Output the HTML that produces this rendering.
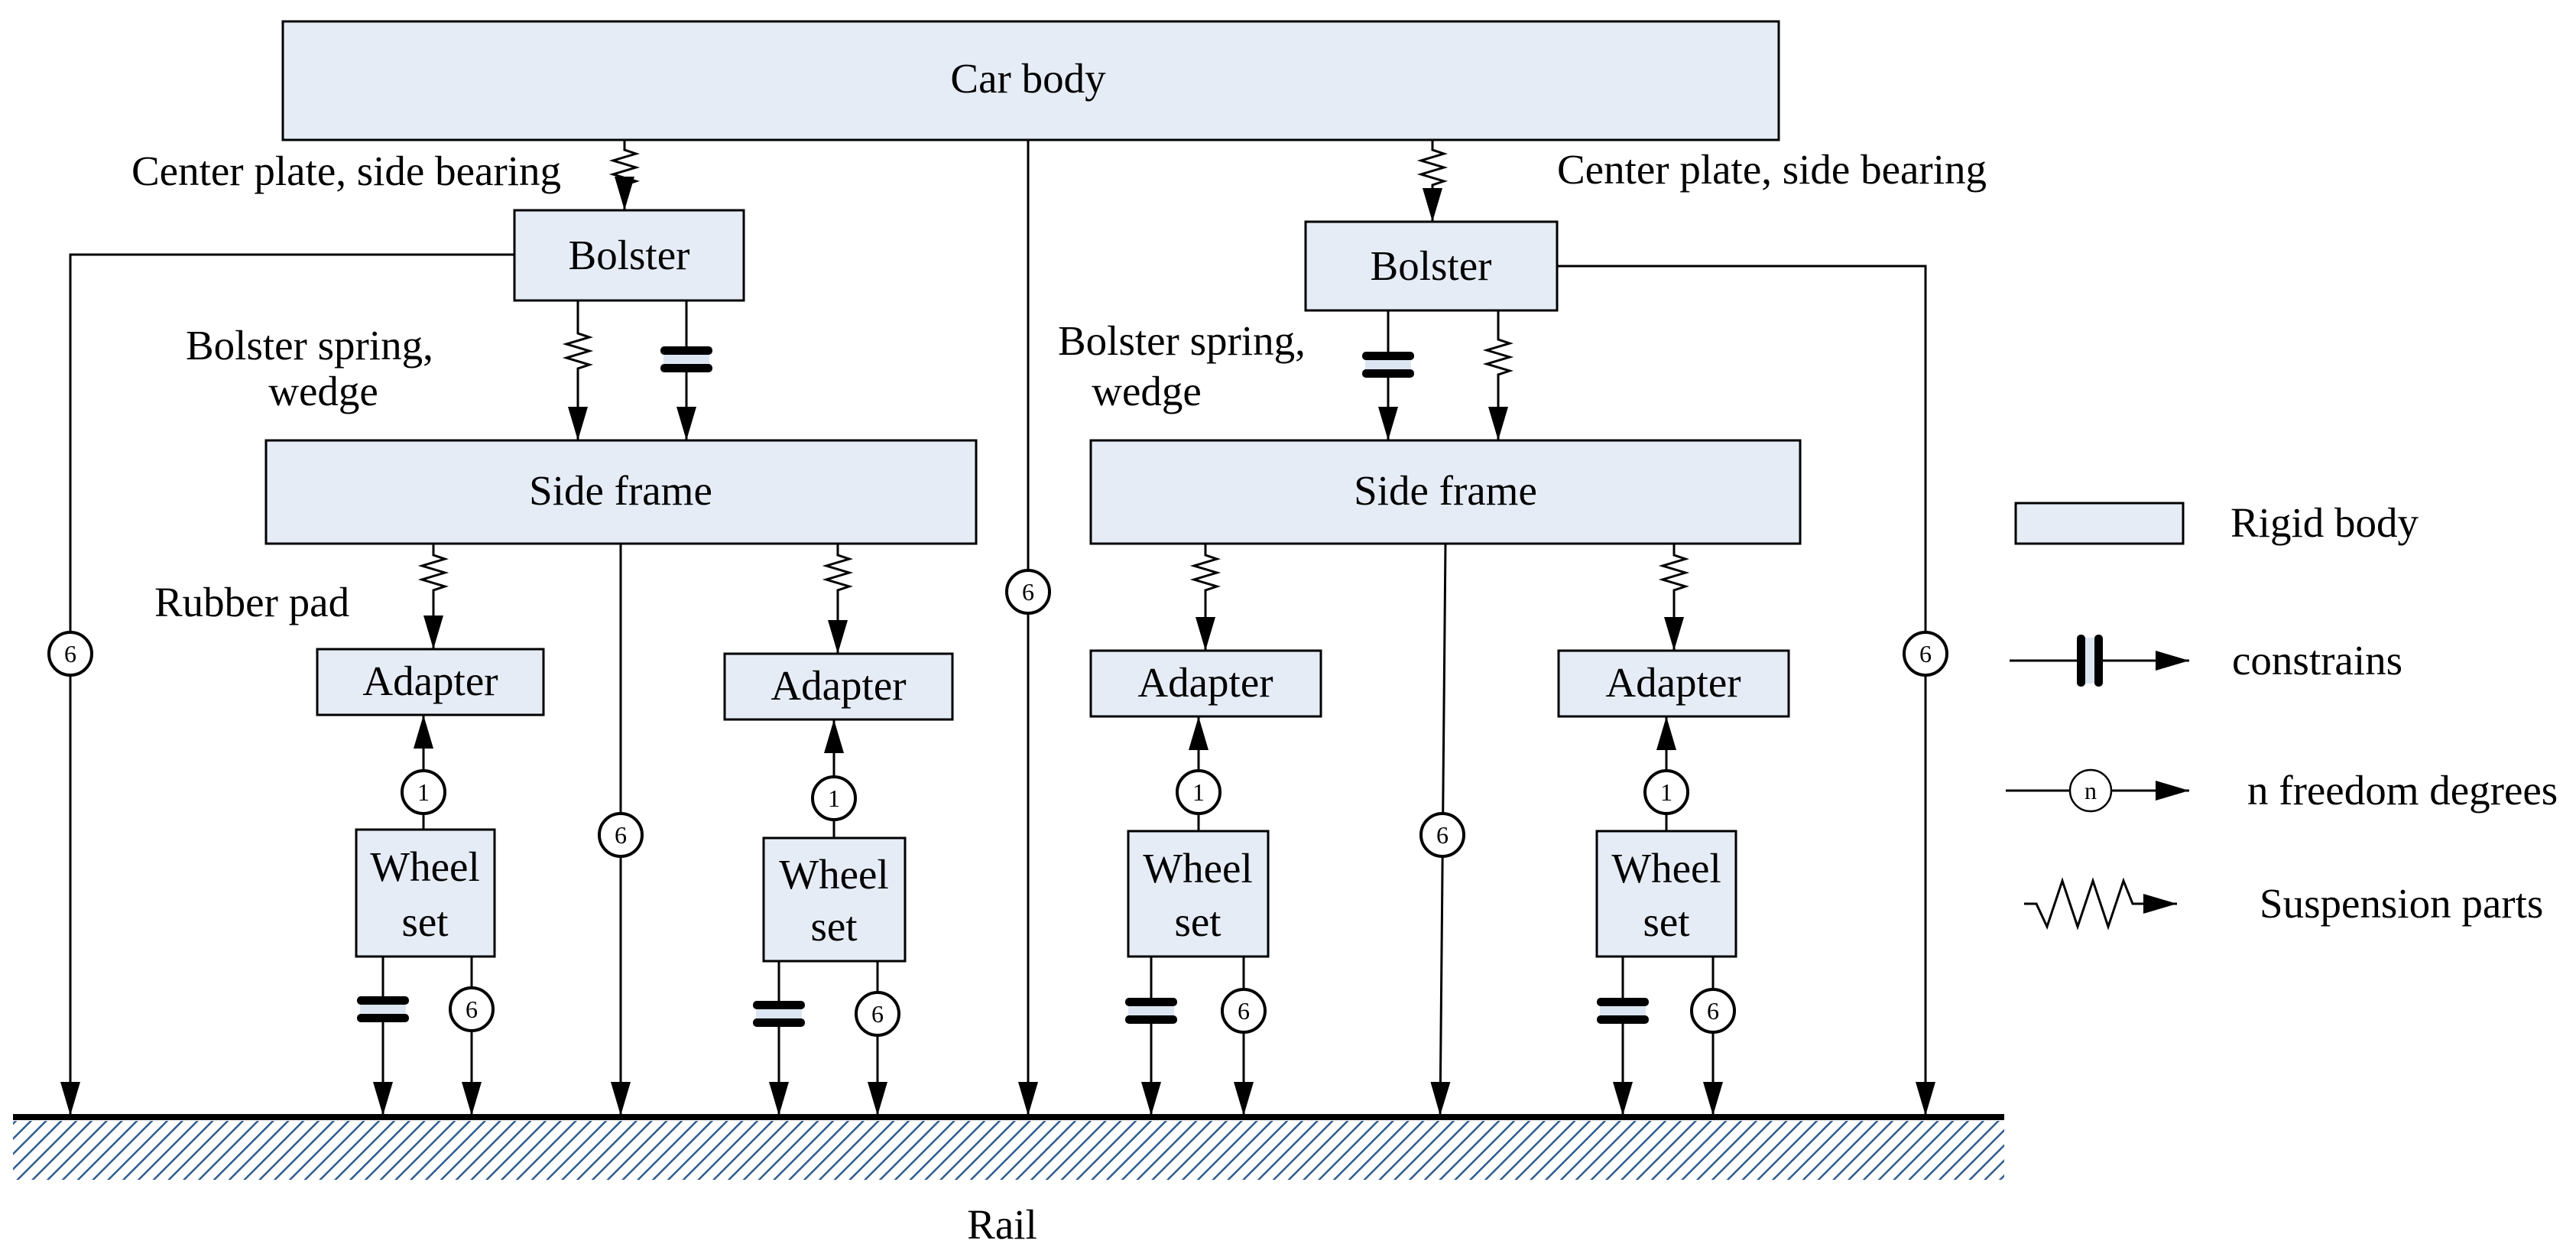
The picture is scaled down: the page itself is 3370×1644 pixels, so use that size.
<!DOCTYPE html>
<html><head><meta charset="utf-8"><style>
html,body{margin:0;padding:0;background:#fff}
svg{display:block}
text{font-family:"Liberation Serif",serif;fill:#000}
</style></head><body>
<svg width="3370" height="1644" viewBox="0 0 3370 1644" xmlns="http://www.w3.org/2000/svg">
<defs>
<marker id="ar" markerUnits="userSpaceOnUse" markerWidth="46" markerHeight="28" refX="44" refY="13" orient="auto">
<path d="M0,0 L44,13 L0,26 Z" fill="#000"/></marker>
<path id="spr" d="M0,0 v6 l15,5 l-30,9 l30,9 l-30,9 l30,9 l-15,5 v6" fill="none" stroke="#000" stroke-width="3"/>
<g id="con"><rect x="-30" y="-10" width="60" height="20" fill="#dce6f2"/><rect x="-34" y="-17" width="68" height="11" rx="5" fill="#000"/><rect x="-34" y="6" width="68" height="11" rx="5" fill="#000"/></g>
<pattern id="hatch" patternUnits="userSpaceOnUse" width="14" height="14" patternTransform="rotate(45)"><rect width="14" height="14" fill="#fff"/><line x1="0" y1="0" x2="0" y2="14" stroke="#2f5d8f" stroke-width="5"/></pattern>
</defs>
<g stroke="#000" stroke-width="3" fill="#e6ecf6">
<rect x="370" y="28" width="1957" height="155"/>
<rect x="673" y="275" width="300" height="118"/>
<rect x="1708" y="290" width="329" height="116"/>
<rect x="348" y="576" width="929" height="135"/>
<rect x="1427" y="576" width="928" height="135"/>
<rect x="415" y="849" width="296" height="86"/>
<rect x="948" y="855" width="298" height="86"/>
<rect x="1427" y="851" width="301" height="86"/>
<rect x="2039" y="851" width="301" height="86"/>
<rect x="466" y="1085" width="181" height="166"/>
<rect x="999" y="1096" width="185" height="161"/>
<rect x="1476" y="1087" width="183" height="164"/>
<rect x="2089" y="1087" width="182" height="164"/>
<rect x="2637" y="658" width="219" height="53"/>
</g>
<rect x="17" y="1466" width="2605" height="77" fill="url(#hatch)"/>
<line x1="17" y1="1461" x2="2622" y2="1461" stroke="#000" stroke-width="8"/>
<g stroke="#000" stroke-width="3" fill="none">
<line x1="817" y1="183" x2="817" y2="190"/><use href="#spr" x="817" y="190"/><line x1="817" y1="246" x2="817" y2="275" marker-end="url(#ar)"/>
<line x1="1874" y1="183" x2="1874" y2="190"/><use href="#spr" x="1874" y="190"/><line x1="1874" y1="246" x2="1874" y2="290" marker-end="url(#ar)"/>
<line x1="756" y1="393" x2="756" y2="430"/><use href="#spr" x="756" y="430"/><line x1="756" y1="486" x2="756" y2="576" marker-end="url(#ar)"/>
<line x1="898" y1="393" x2="898" y2="576" marker-end="url(#ar)"/>
<line x1="1960" y1="406" x2="1960" y2="438"/><use href="#spr" x="1960" y="438"/><line x1="1960" y1="494" x2="1960" y2="576" marker-end="url(#ar)"/>
<line x1="1816" y1="406" x2="1816" y2="576" marker-end="url(#ar)"/>
<line x1="567" y1="711" x2="567" y2="720"/><use href="#spr" x="567" y="720"/><line x1="567" y1="776" x2="567" y2="849" marker-end="url(#ar)"/>
<line x1="1096" y1="711" x2="1096" y2="720"/><use href="#spr" x="1096" y="720"/><line x1="1096" y1="776" x2="1096" y2="855" marker-end="url(#ar)"/>
<line x1="1577" y1="711" x2="1577" y2="720"/><use href="#spr" x="1577" y="720"/><line x1="1577" y1="776" x2="1577" y2="851" marker-end="url(#ar)"/>
<line x1="2190" y1="711" x2="2190" y2="720"/><use href="#spr" x="2190" y="720"/><line x1="2190" y1="776" x2="2190" y2="851" marker-end="url(#ar)"/>
<line x1="554" y1="1085" x2="554" y2="935" marker-end="url(#ar)"/>
<line x1="1091" y1="1096" x2="1091" y2="941" marker-end="url(#ar)"/>
<line x1="1568" y1="1087" x2="1568" y2="937" marker-end="url(#ar)"/>
<line x1="2180" y1="1087" x2="2180" y2="937" marker-end="url(#ar)"/>
<line x1="501" y1="1251" x2="501" y2="1459" marker-end="url(#ar)"/>
<line x1="617" y1="1251" x2="617" y2="1459" marker-end="url(#ar)"/>
<line x1="1019" y1="1257" x2="1019" y2="1459" marker-end="url(#ar)"/>
<line x1="1148" y1="1257" x2="1148" y2="1459" marker-end="url(#ar)"/>
<line x1="1506" y1="1251" x2="1506" y2="1459" marker-end="url(#ar)"/>
<line x1="1627" y1="1251" x2="1627" y2="1459" marker-end="url(#ar)"/>
<line x1="2123" y1="1251" x2="2123" y2="1459" marker-end="url(#ar)"/>
<line x1="2241" y1="1251" x2="2241" y2="1459" marker-end="url(#ar)"/>
<polyline points="673,333 92,333 92,1459" marker-end="url(#ar)"/>
<line x1="812" y1="711" x2="812" y2="1459" marker-end="url(#ar)"/>
<line x1="1345" y1="183" x2="1345" y2="1459" marker-end="url(#ar)"/>
<line x1="1891" y1="711" x2="1884" y2="1459" marker-end="url(#ar)"/>
<polyline points="2037,348 2519,348 2519,1459" marker-end="url(#ar)"/>
<line x1="2629" y1="864" x2="2864" y2="864" marker-end="url(#ar)"/>
<line x1="2624" y1="1034" x2="2864" y2="1034" marker-end="url(#ar)"/>
<path d="M2648,1182 h16 l14,30 l20,-60 l20,60 l20,-60 l20,60 l20,-60 l12,30 h58" marker-end="url(#ar)"/>
</g>
<use href="#con" x="898" y="470"/>
<use href="#con" x="1816" y="477"/>
<use href="#con" x="501" y="1320"/>
<use href="#con" x="1019" y="1326"/>
<use href="#con" x="1506" y="1322"/>
<use href="#con" x="2123" y="1322"/>
<g transform="translate(2734,864) rotate(90)"><use href="#con"/></g>
<g stroke="#000" stroke-width="4" fill="#fff">
<circle cx="554" cy="1036" r="28"/><circle cx="1091" cy="1044" r="28"/><circle cx="1568" cy="1036" r="28"/><circle cx="2180" cy="1036" r="28"/>
<circle cx="617" cy="1320" r="28"/><circle cx="1148" cy="1326" r="28"/><circle cx="1627" cy="1322" r="28"/><circle cx="2241" cy="1322" r="28"/>
<circle cx="92" cy="855" r="28"/><circle cx="812" cy="1092" r="28"/><circle cx="1345" cy="774" r="28"/><circle cx="1887" cy="1092" r="28"/><circle cx="2519" cy="855" r="28"/>
</g>
<circle cx="2735" cy="1034" r="27" stroke="#000" stroke-width="2.5" fill="#fff"/>
<g font-size="32" text-anchor="middle">
<text x="554" y="1047">1</text><text x="1091" y="1055">1</text><text x="1568" y="1047">1</text><text x="2180" y="1047">1</text>
<text x="617" y="1331">6</text><text x="1148" y="1337">6</text><text x="1627" y="1333">6</text><text x="2241" y="1333">6</text>
<text x="92" y="866">6</text><text x="812" y="1103">6</text><text x="1345" y="785">6</text><text x="1887" y="1103">6</text><text x="2519" y="866">6</text>
<text x="2735" y="1045">n</text>
</g>
<g font-size="55" text-anchor="middle">
<text x="1345" y="121">Car body</text>
<text x="823" y="352">Bolster</text>
<text x="1872" y="366">Bolster</text>
<text x="812" y="660">Side frame</text>
<text x="1891" y="660">Side frame</text>
<text x="563" y="909">Adapter</text>
<text x="1097" y="915">Adapter</text>
<text x="1577" y="911">Adapter</text>
<text x="2189" y="911">Adapter</text>
<text x="556" y="1152">Wheel</text><text x="556" y="1224">set</text>
<text x="1091" y="1162">Wheel</text><text x="1091" y="1230">set</text>
<text x="1567" y="1154">Wheel</text><text x="1567" y="1224">set</text>
<text x="2180" y="1154">Wheel</text><text x="2180" y="1224">set</text>
<text x="1311" y="1620">Rail</text>
<text x="423" y="530">wedge</text>
<text x="1500" y="530">wedge</text>
</g>
<g font-size="55">
<text x="172" y="242">Center plate, side bearing</text>
<text x="2037" y="240">Center plate, side bearing</text>
<text x="243" y="470">Bolster spring,</text>
<text x="1384" y="464">Bolster spring,</text>
<text x="202" y="806">Rubber pad</text>
<text x="2918" y="702">Rigid body</text>
<text x="2920" y="882">constrains</text>
<text x="2940" y="1052">n freedom degrees</text>
<text x="2956" y="1200">Suspension parts</text>
</g>
</svg>
</body></html>
